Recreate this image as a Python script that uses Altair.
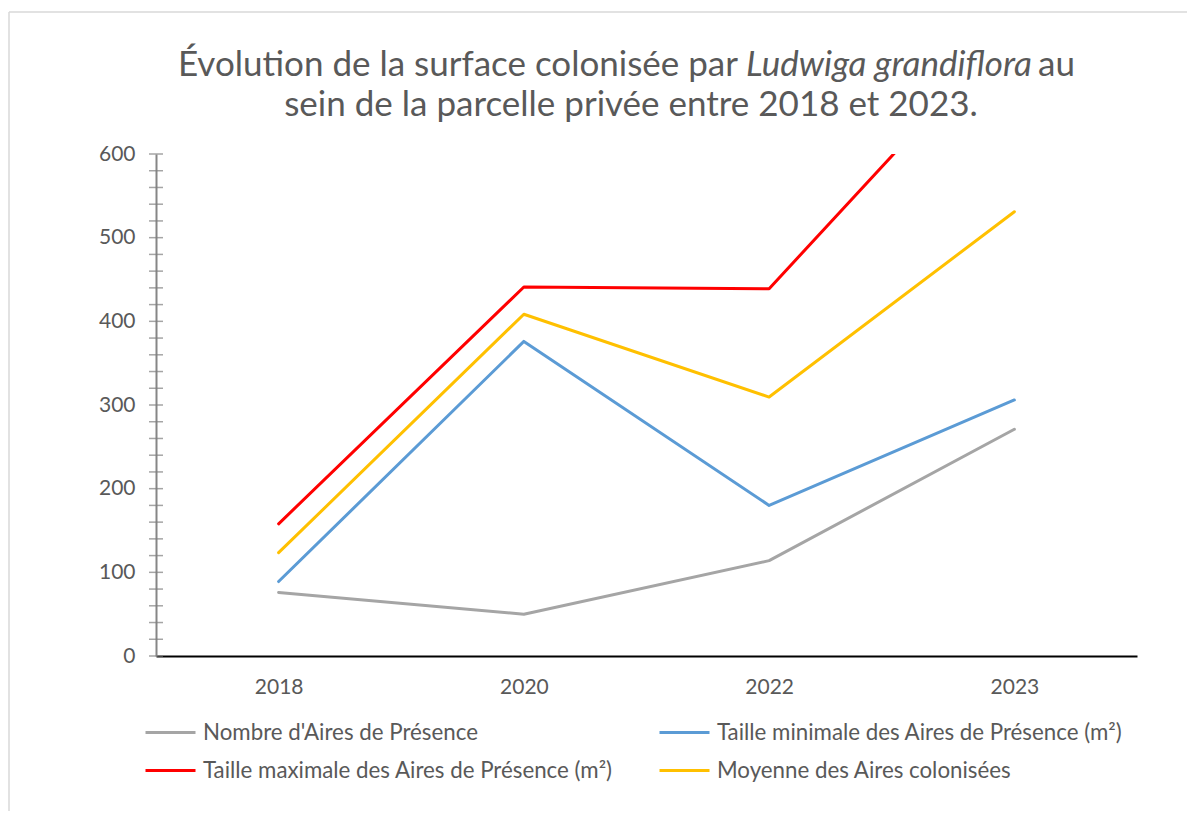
import altair as alt
import pandas as pd

years = ["2018", "2020", "2022", "2023"]
nombre = [76, 50, 114, 271]
taille_min = [89, 376, 180, 306]
taille_max = [158, 441, 439, 756]
moyenne = [123.5, 408.5, 309.5, 531]

series_names = [
    "Nombre d'Aires de Présence",
    "Taille minimale des Aires de Présence (m²)",
    "Taille maximale des Aires de Présence (m²)",
    "Moyenne des Aires colonisées",
]
series_colors = ["#A5A5A5", "#5B9BD5", "#FF0000", "#FFC000"]
# legend is filled column by column: order entries so rows read as in the reference
legend_order = [series_names[0], series_names[2], series_names[1], series_names[3]]
legend_colors = [series_colors[0], series_colors[2], series_colors[1], series_colors[3]]

y_minor_ticks = list(range(0, 601, 20))
y_labels = list(range(0, 601, 100))

title_a = "Évolution de la surface colonisée par"
title_b = "Ludwiga grandiflora"
title_c = "au"
title_2 = "sein de la parcelle privée entre 2018 et 2023."

rows = []
for name, vals in zip(series_names, [nombre, taille_min, taille_max, moyenne]):
    for yr, v in zip(years, vals):
        rows.append({"Année": yr, "Valeur": v, "Série": name})
df = pd.DataFrame(rows)

W, H = 981, 502
FONT = "Lato"
TXT = "#595959"

yscale = alt.Scale(domain=[0, 600], nice=False, zero=True)
yaxis = alt.Axis(title=None, values=y_labels, ticks=False, tickSize=0, grid=False,
                 domainColor="#868686", domainWidth=2, labelFontSize=21,
                 labelColor=TXT, labelPadding=21, labelFont=FONT)

ticks = alt.Chart(pd.DataFrame({"t": y_minor_ticks})).mark_tick(
    orient="horizontal", color="#7F7F7F", thickness=1.5, size=14
).encode(
    y=alt.Y("t:Q", scale=yscale, axis=yaxis),
    x=alt.value(0),
)

lines = alt.Chart(df).mark_line(strokeWidth=3, clip=True, strokeCap="round", strokeJoin="round").encode(
    x=alt.X("Année:O", sort=years,
            scale=alt.Scale(type="point", padding=0.5, domain=years),
            axis=alt.Axis(title=None, labelAngle=0, ticks=False, tickSize=0, domainColor="#000000",
                          domainWidth=2, labelFontSize=21, labelColor=TXT, labelPadding=20,
                          labelFont=FONT)),
    y=alt.Y("Valeur:Q", scale=yscale, axis=yaxis),
    color=alt.Color("Série:N", sort=legend_order,
                    scale=alt.Scale(domain=legend_order, range=legend_colors),
                    legend=alt.Legend(title=None, orient="none", legendX=-12, legendY=552,
                                      columns=2, symbolType="stroke", symbolSize=2500,
                                      symbolStrokeWidth=3, labelFontSize=22.3, labelColor=TXT,
                                      labelFont=FONT, columnPadding=40, rowPadding=-7,
                                      labelOffset=6, labelLimit=700)),
    order=alt.Order("Année:O"),
)

border_top = alt.Chart(pd.DataFrame({"d": [0]})).mark_rule(
    color="#D9D9D9", strokeWidth=1.5, clip=False
).encode(x=alt.value(-147), x2=alt.value(1300), y=alt.value(-142))

border_left = alt.Chart(pd.DataFrame({"d": [0]})).mark_rule(
    color="#D9D9D9", strokeWidth=1.5, clip=False
).encode(x=alt.value(-147), y=alt.value(-142), y2=alt.value(900))

def txt(s, x, y, align, italic=False):
    return alt.Chart(pd.DataFrame({"t": [s]})).mark_text(
        font=FONT, fontSize=35, color=TXT, align=align, baseline="alphabetic",
        fontStyle="italic" if italic else "normal"
    ).encode(text="t:N", x=alt.value(x), y=alt.value(y))

t1 = txt(title_a, 582, -78, "right")
t2 = txt(title_b, 590, -78, "left", italic=True)
t3 = txt(title_c, 882, -78, "left")
t4 = txt(title_2, 475, -38, "center")

chart = alt.layer(border_top, border_left, ticks, lines, t1, t2, t3, t4).properties(
    width=W, height=H,
    autosize=alt.AutoSizeParams(type="none"),
    padding={"left": 148, "top": 146, "right": 50, "bottom": 155},
).configure_view(stroke=None)

chart.save("out.html", embed_options={"renderer": "svg", "actions": False})
